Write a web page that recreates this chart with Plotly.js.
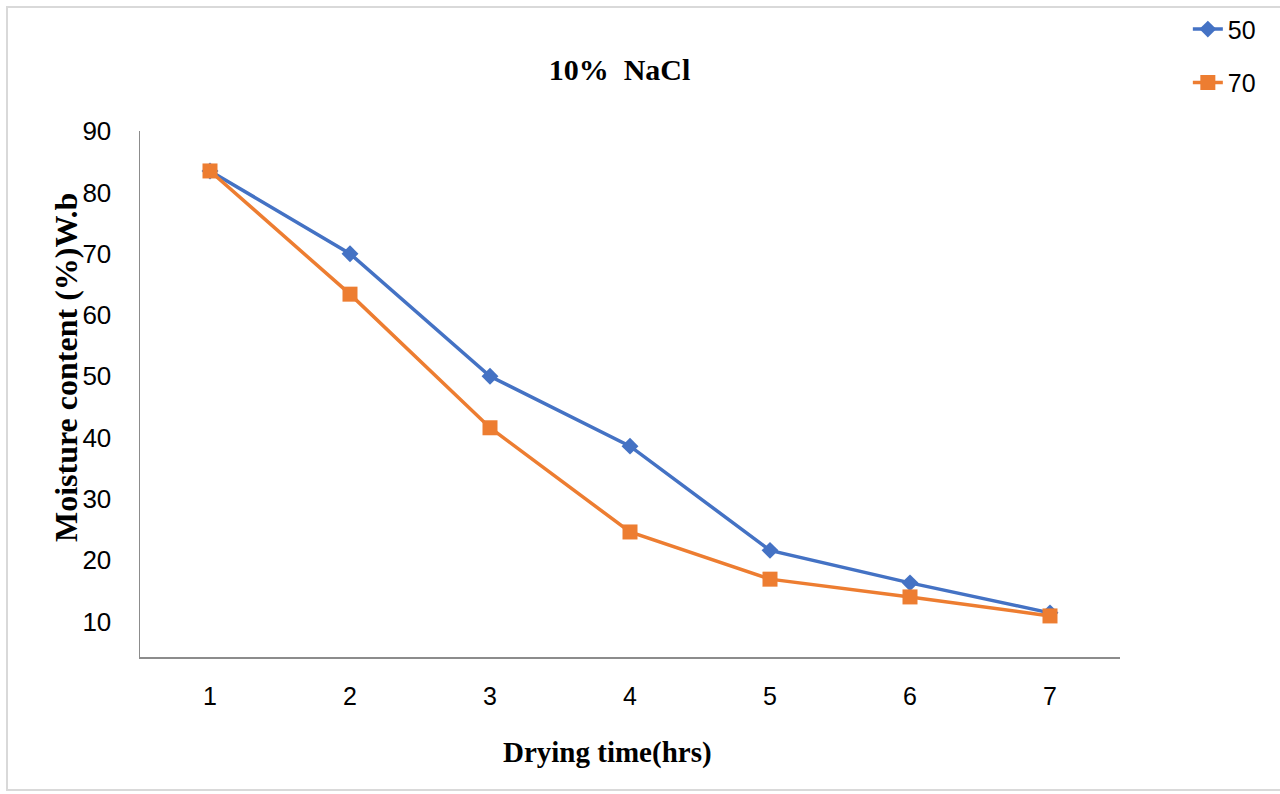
<!DOCTYPE html>
<html>
<head>
<meta charset="utf-8">
<script src="https://cdn.plot.ly/plotly-3.0.1.min.js"></script>
<style>
  html, body { margin: 0; padding: 0; background: #fff; }
  #wrap { position: relative; width: 1280px; height: 794px; overflow: hidden; }
  #chart { width: 1280px; height: 794px; }
  #frame { position: absolute; left: 6px; top: 6px; width: 1290px; height: 785px;
           border: 2px solid #d9d9d9; box-sizing: border-box; pointer-events: none; }
</style>
</head>
<body>
<div id="wrap">
  <div id="chart"></div>
  <div id="frame"></div>
</div>
<script>
const hours = [1, 2, 3, 4, 5, 6, 7];
const tickLabels = ['1', '2', '3', '4', '5', '6', '7'];
const series50 = [83.5, 70.0, 50.0, 38.6, 21.6, 16.3, 11.4];
const series70 = [83.5, 63.4, 41.6, 24.6, 16.9, 14.0, 10.9];
const seriesNames = ['50', '70'];

const traces = [
  {
    x: hours, y: series50, name: seriesNames[0], type: 'scatter', mode: 'lines+markers',
    legendgroup: 'a', cliponaxis: false,
    line: { color: '#4472C4', width: 3.5 },
    marker: { symbol: 'diamond', size: 13, color: '#4472C4' }
  },
  {
    x: hours, y: series70, name: seriesNames[1], type: 'scatter', mode: 'lines+markers',
    legendgroup: 'b', cliponaxis: false,
    line: { color: '#ED7D31', width: 3.5 },
    marker: { symbol: 'square', size: 15, color: '#ED7D31' }
  }
];

const serif = '"Liberation Serif", "Times New Roman", serif';
const sans = 'Arial, "Liberation Sans", sans-serif';

const layout = {
  width: 1280, height: 794,
  paper_bgcolor: '#fff', plot_bgcolor: '#fff',
  margin: { l: 140, r: 160, t: 131, b: 137 },
  title: {
    text: '<b>10%  NaCl</b>',
    font: { family: serif, size: 30, color: '#000' },
    x: 0.484, xref: 'container', y: 0.912, yref: 'container', xanchor: 'center', yanchor: 'middle'
  },
  showlegend: true,
  legend: {
    xref: 'container', yref: 'container', x: 0.928, y: 0.992, xanchor: 'left', yanchor: 'top',
    font: { family: sans, size: 25, color: '#000' },
    tracegroupgap: 18, traceorder: 'grouped', bgcolor: 'rgba(0,0,0,0)'
  },
  xaxis: {
    range: [0.5, 7.5], tickvals: hours, ticktext: tickLabels,
    showgrid: false, zeroline: false,
    showline: true, linecolor: '#8c8c8c', linewidth: 1.5,
    ticks: '', ticklabelstandoff: 16,
    tickfont: { family: sans, size: 25, color: '#000' }
  },
  yaxis: {
    range: [4.2, 90.02], tickvals: [10, 20, 30, 40, 50, 60, 70, 80, 90],
    showgrid: false, zeroline: false,
    showline: true, linecolor: '#8c8c8c', linewidth: 1.5,
    ticks: '', ticklabelstandoff: 22,
    tickfont: { family: sans, size: 26, color: '#000' }
  },
  annotations: [
    {
      text: '<b>Drying time(hrs)</b>', xref: 'paper', yref: 'paper',
      x: (607 - 140) / 980, y: -(752 - 657) / 526, xanchor: 'center', yanchor: 'middle',
      showarrow: false, font: { family: serif, size: 29, color: '#000' }
    },
    {
      text: '<b>Moisture content (%)W.b</b>', xref: 'paper', yref: 'paper',
      x: -(140 - 66) / 980, y: (657 - 368) / 526, xanchor: 'center', yanchor: 'middle',
      textangle: -90, showarrow: false, font: { family: serif, size: 32, color: '#000' }
    }
  ]
};

Plotly.newPlot('chart', traces, layout, { displayModeBar: false, staticPlot: true });
</script>
</body>
</html>
